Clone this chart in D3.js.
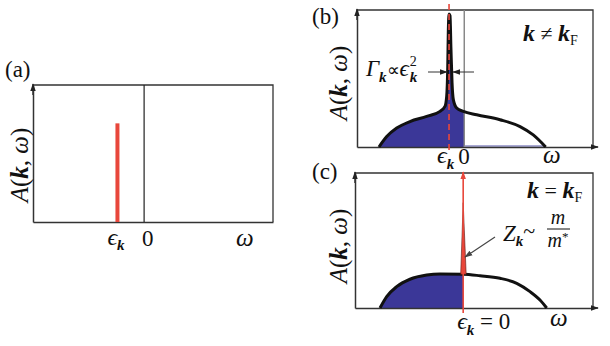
<!DOCTYPE html>
<html><head><meta charset="utf-8">
<script src="https://cdn.jsdelivr.net/npm/d3@7"></script>
<style>body{margin:0;background:#fff}svg{display:block}</style>
</head><body>
<svg id="chart" width="610" height="346"></svg>
<script>
// ---------- data ----------
const panelLabels = ["(a)", "(b)", "(c)"];
const omegaDomainA = [-1, 1.16];
const omegaDomainBC = [-1, 1.2];
const ampDomain = [0, 1];
// panel (a): delta peak
const epsA = -0.24;
const peakA = 0.72;
// panel (b): k != kF spectral function
const epsB = -0.142;
const omegaB = [-0.795,-0.723,-0.630,-0.506,-0.350,-0.226,-0.180,-0.164,-0.154,-0.149,-0.142,-0.133,-0.124,-0.114,-0.102,-0.071,-0.009,0.116,0.333,0.520,0.643,0.759];
const ampB   = [0,0.076,0.138,0.186,0.223,0.260,0.296,0.370,0.590,0.836,0.971,0.958,0.713,0.468,0.346,0.285,0.260,0.235,0.199,0.149,0.088,0];
// panel (c): k = kF spectral function
const epsC = 0;
const omegaC = [-0.769,-0.707,-0.615,-0.492,-0.337,-0.214,0,0.156,0.340,0.495,0.618,0.710,0.772];
const ampC   = [0,0.084,0.158,0.213,0.244,0.252,0.250,0.239,0.220,0.183,0.121,0.059,0];
const spikeTopC = 1.0;
const spikeTipC = 0.78;

const BLUE = "#3b3798", RED = "#e8473b", AX = "#333";
const FONT = "Liberation Serif";
const svg = d3.select("#chart");
const defs = svg.append("defs");
function marker(id, color, size) {
  defs.append("marker").attr("id", id).attr("viewBox", "0 0 10 10")
    .attr("refX", 9).attr("refY", 5).attr("markerWidth", size).attr("markerHeight", size)
    .attr("orient", "auto-start-reverse").attr("markerUnits", "userSpaceOnUse")
    .append("path").attr("d", "M0,1.5 L10,5 L0,8.5 Z").attr("fill", color);
}
marker("arrK", "#222", 8);
marker("arrR", RED, 8);
marker("arrG", "#444", 8);

function rich(g, x, y, parts, opts = {}) {
  const t = g.append("text").attr("x", x).attr("y", y)
    .attr("font-family", FONT).attr("fill", "#111")
    .attr("text-anchor", opts.anchor || "start");
  if (opts.rotate) t.attr("transform", `rotate(${opts.rotate},${x},${y})`);
  parts.forEach(p => {
    const s = t.append("tspan").text(p.t).attr("font-family", FONT).attr("font-size", p.size || 20);
    if (p.it) s.attr("font-style", "italic");
    if (p.b) s.attr("font-weight", "bold");
    if (p.dy) s.attr("dy", p.dy);
    if (p.dx) s.attr("dx", p.dx);
  });
  return t;
}
function yLabel(g, x, y, size) {
  rich(g, x, y, [
    {t: "A", it: 1, size}, {t: "(", size}, {t: "k", it: 1, b: 1, size},
    {t: ", ", size}, {t: "ω", it: 1, size}, {t: ")", size}
  ], {anchor: "middle", rotate: -90});
}

function panel(box, domain) {
  const x = d3.scaleLinear().domain(domain).range([box.l, box.r]);
  const y = d3.scaleLinear().domain(ampDomain).range([box.b, box.t]);
  const g = svg.append("g");
  return {x, y, g, box};
}
function frame(P, arrowRight) {
  const {g, box, x, y} = P;
  g.append("path").attr("d", `M${box.l},${box.t} H${box.r} V${box.b}`)
    .attr("fill", "none").attr("stroke", AX).attr("stroke-width", 1.3);
  const xa = g.append("g").attr("transform", `translate(0,${box.b})`)
    .call(d3.axisBottom(x).tickValues([]).tickSizeOuter(0));
  xa.select(".domain").attr("stroke", AX).attr("stroke-width", 1.5);
  if (arrowRight) {
    g.append("line").attr("x1", box.r).attr("x2", box.r + 5).attr("y1", box.b).attr("y2", box.b)
      .attr("stroke", AX).attr("stroke-width", 1.5).attr("marker-end", "url(#arrK)");
  }
  const ya = g.append("g").attr("transform", `translate(${box.l},0)`)
    .call(d3.axisLeft(y).tickValues([]).tickSizeOuter(0));
  ya.select(".domain").attr("stroke", AX).attr("stroke-width", 1.5);
  g.append("line").attr("x1", box.l).attr("x2", box.l).attr("y1", box.t + 10).attr("y2", box.t - 1)
    .attr("stroke", AX).attr("stroke-width", 1.5).attr("marker-end", "url(#arrK)");
}

// ---------- panel (a) ----------
const A = panel({l: 33, r: 273, t: 85, b: 222}, omegaDomainA);
frame(A, false);
A.g.append("line").attr("x1", A.x(0)).attr("x2", A.x(0)).attr("y1", A.y(0)).attr("y2", A.y(1))
  .attr("stroke", "#222").attr("stroke-width", 1.2);
A.g.append("line").attr("x1", A.x(epsA)).attr("x2", A.x(epsA)).attr("y1", A.y(0)).attr("y2", A.y(peakA))
  .attr("stroke", RED).attr("stroke-width", 4);
rich(A.g, 5, 77, [{t: panelLabels[0], size: 23}]);
yLabel(A.g, 28, 165, 25);
rich(A.g, A.x(epsA) - 10, 245, [{t: "ϵ", it: 1, size: 24}, {t: "k", it: 1, b: 1, size: 15, dy: 5}]);
rich(A.g, A.x(0) - 2, 246, [{t: "0", size: 23}]);
rich(A.g, 236, 246, [{t: "ω", it: 1, size: 25}]);

// ---------- panel (b) ----------
const B = panel({l: 357, r: 593, t: 10, b: 147}, omegaDomainBC);
defs.append("clipPath").attr("id", "clipB").append("rect")
  .attr("x", B.box.l).attr("y", 0).attr("width", B.x(0) - B.box.l).attr("height", 346);
const ptsB = omegaB.map((w, i) => [w, ampB[i]]);
const areaB = d3.area().x(d => B.x(d[0])).y0(B.y(0)).y1(d => B.y(d[1])).curve(d3.curveMonotoneX);
const lineB = d3.line().x(d => B.x(d[0])).y(d => B.y(d[1])).curve(d3.curveMonotoneX);
B.g.append("path").attr("d", areaB(ptsB)).attr("fill", BLUE).attr("clip-path", "url(#clipB)");
B.g.append("line").attr("x1", B.x(0)).attr("x2", B.x(omegaB[omegaB.length - 1])).attr("y1", B.y(0) - 1).attr("y2", B.y(0) - 1)
  .attr("stroke", "#8d8cc4").attr("stroke-width", 1.5);
frame(B, true);
B.g.append("line").attr("x1", B.x(0)).attr("x2", B.x(0)).attr("y1", B.y(0)).attr("y2", B.y(1))
  .attr("stroke", "#888").attr("stroke-width", 1.5);
B.g.append("path").attr("d", lineB(ptsB)).attr("fill", "none").attr("stroke", "#111")
  .attr("stroke-width", 3).attr("stroke-linejoin", "round");
B.g.append("line").attr("x1", B.x(epsB)).attr("x2", B.x(epsB)).attr("y1", 4).attr("y2", 152)
  .attr("stroke", RED).attr("stroke-width", 1.6).attr("stroke-dasharray", "6,4");
B.g.append("line").attr("x1", 428).attr("x2", 447).attr("y1", 72).attr("y2", 72)
  .attr("stroke", "#333").attr("stroke-width", 1).attr("marker-end", "url(#arrK)");
B.g.append("line").attr("x1", 474).attr("x2", 453).attr("y1", 72).attr("y2", 72)
  .attr("stroke", "#333").attr("stroke-width", 1).attr("marker-end", "url(#arrK)");
rich(B.g, 312, 24, [{t: panelLabels[1], size: 23}]);
yLabel(B.g, 347, 83, 25);
rich(B.g, 366, 76, [
  {t: "Γ", it: 1, size: 23}, {t: "k", it: 1, b: 1, size: 15, dy: 6},
  {t: "∝", size: 18, dy: -6}, {t: "ϵ", it: 1, size: 23},
  {t: "2", size: 14, dy: -10, dx: 1}, {t: "k", it: 1, b: 1, size: 15, dy: 16, dx: -7}
]);
rich(B.g, 523, 41, [{t: "k", it: 1, b: 1, size: 24}, {t: " ≠ ", size: 22}, {t: "k", it: 1, b: 1, size: 24}, {t: "F", size: 14, dy: 4}]);
rich(B.g, B.x(epsB) - 12, 163, [{t: "ϵ", it: 1, size: 24}, {t: "k", it: 1, b: 1, size: 15, dy: 6}]);
rich(B.g, B.x(0) - 6, 164, [{t: "0", size: 23}]);
rich(B.g, 543, 163, [{t: "ω", it: 1, size: 25}]);

// ---------- panel (c) ----------
const C = panel({l: 355, r: 593, t: 173, b: 308}, omegaDomainBC);
defs.append("clipPath").attr("id", "clipC").append("rect")
  .attr("x", C.box.l).attr("y", 0).attr("width", C.x(0) - C.box.l).attr("height", 346);
const ptsC = omegaC.map((w, i) => [w, ampC[i]]);
const areaC = d3.area().x(d => C.x(d[0])).y0(C.y(0)).y1(d => C.y(d[1])).curve(d3.curveMonotoneX);
const lineC = d3.line().x(d => C.x(d[0])).y(d => C.y(d[1])).curve(d3.curveMonotoneX);
C.g.append("path").attr("d", areaC(ptsC)).attr("fill", BLUE).attr("clip-path", "url(#clipC)");
frame(C, true);
C.g.append("path").attr("d", lineC(ptsC)).attr("fill", "none").attr("stroke", "#111")
  .attr("stroke-width", 3).attr("stroke-linejoin", "round");
const baseC = ampC[omegaC.indexOf(0)];
C.g.append("path")
  .attr("d", `M${C.x(epsC) - 2.5},${C.y(baseC)} L${C.x(epsC)},${C.y(spikeTipC)} L${C.x(epsC) + 3},${C.y(baseC)} Z`)
  .attr("fill", RED).attr("stroke", "#5a1a14").attr("stroke-width", 0.6);
C.g.append("line").attr("x1", C.x(epsC)).attr("x2", C.x(epsC)).attr("y1", C.y(0) + 5).attr("y2", C.y(spikeTopC) - 1)
  .attr("stroke", RED).attr("stroke-width", 1.6).attr("marker-end", "url(#arrR)");
C.g.append("line").attr("x1", 495).attr("x2", 465).attr("y1", 237).attr("y2", 257)
  .attr("stroke", "#444").attr("stroke-width", 1.2).attr("marker-end", "url(#arrG)");
rich(C.g, 312, 179, [{t: panelLabels[2], size: 23}]);
yLabel(C.g, 347, 246, 25);
rich(C.g, 527, 198, [{t: "k", it: 1, b: 1, size: 24}, {t: " = ", size: 22}, {t: "k", it: 1, b: 1, size: 24}, {t: "F", size: 14, dy: 4}]);
rich(C.g, 503, 241, [{t: "Z", it: 1, size: 23}, {t: "k", it: 1, b: 1, size: 15, dy: 5}, {t: "~", size: 22, dy: -8}]);
rich(C.g, 558, 224, [{t: "m", it: 1, size: 20}], {anchor: "middle"});
C.g.append("line").attr("x1", 547).attr("x2", 570).attr("y1", 229).attr("y2", 229).attr("stroke", "#111").attr("stroke-width", 1);
rich(C.g, 558, 247, [{t: "m", it: 1, size: 20}, {t: "*", size: 13, dy: -6}], {anchor: "middle"});
rich(C.g, C.x(0) - 6, 329, [{t: "ϵ", it: 1, size: 24}, {t: "k", it: 1, b: 1, size: 15, dy: 6}, {t: " = 0", size: 23, dy: -6}]);
rich(C.g, 550, 326, [{t: "ω", it: 1, size: 25}]);
</script>
</body></html>
